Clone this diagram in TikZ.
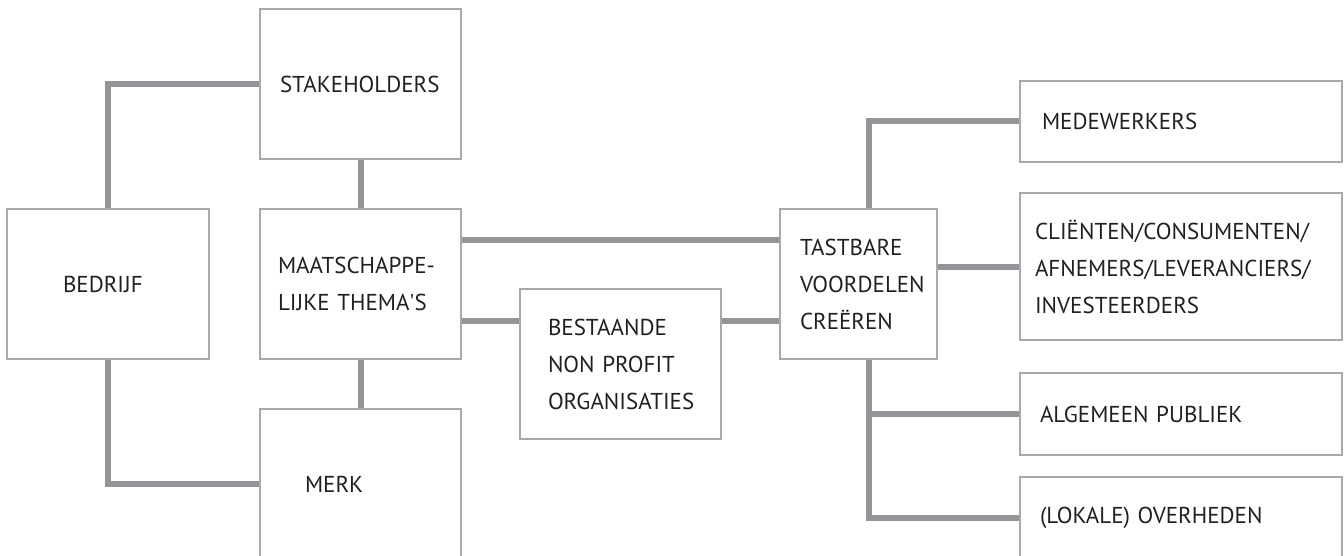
\documentclass[tikz,border=0pt]{standalone}
\usepackage{fontspec}
\setmainfont{PT Sans}
\definecolor{lijngrijs}{HTML}{939598}
\definecolor{randgrijs}{HTML}{A7A9AC}
\definecolor{tekst}{HTML}{231F20}
\begin{document}
\begin{tikzpicture}[x=1pt, y=-1pt,
    blok/.style={draw=randgrijs, line width=1.5pt, text=tekst, align=left, inner sep=0pt,
      font=\fontsize{23}{37}\selectfont},
    lijn/.style={draw=lijngrijs, line width=6pt}]
  \useasboundingbox (0,0) rectangle (1344,556);

  \node (stake) at (360.5, 84) [blok, minimum width=201pt, minimum height=150pt, text width=161pt] {STAKEHOLDERS};
  \node (bedrijf) at (108, 284) [blok, minimum width=202pt, minimum height=150pt, text width=90pt] {BEDRIJF};
  \node (thema) at (360.5, 284) [blok, minimum width=201pt, minimum height=150pt, text width=165pt] {MAATSCHAPPE-\\LIJKE THEMA\textquotesingle S};
  \node (merk) at (360.5, 484) [blok, minimum width=201pt, minimum height=150pt, text width=111pt] {MERK};
  \node (npo) at (620.5, 364) [blok, minimum width=201pt, minimum height=150pt, text width=145pt] {BESTAANDE\\NON PROFIT\\ORGANISATIES};
  \node (tast) at (858.5, 284) [blok, minimum width=157pt, minimum height=150pt, text width=117pt] {TASTBARE\\VOORDELEN\\CREËREN};

  \node (mede) at (1181, 121.5) [blok, minimum width=322pt, minimum height=81pt, text width=278pt] {MEDEWERKERS};
  \node (klant) at (1181, 266.5) [blok, minimum width=322pt, minimum height=147pt, text width=292pt] {CLIËNTEN/CONSUMENTEN/\\AFNEMERS/LEVERANCIERS/\\INVESTEERDERS};
  \node (publiek) at (1181, 414) [blok, minimum width=322pt, minimum height=82pt, text width=282pt] {ALGEMEEN PUBLIEK};
  \node (overheid) at (1181, 518) [blok, minimum width=322pt, minimum height=82pt, text width=282pt] {(LOKALE) OVERHEDEN};

  % linker kant
  \draw[lijn] (bedrijf.north) |- (stake.west);
  \draw[lijn] (stake) -- (thema);
  \draw[lijn] (thema) -- (merk);
  \draw[lijn] (bedrijf.south) |- (merk.west);

  % midden
  \draw[lijn] ([yshift=44pt]thema.east) -- ([yshift=44pt]tast.west);
  \coordinate (t2) at ([yshift=-37pt]thema.east);
  \draw[lijn] (t2) -- (t2 -| npo.west);
  \draw[lijn] (t2 -| npo.east) -- (t2 -| tast.west);

  % rechter kant
  \draw[lijn] ([xshift=10pt]tast.north) |- (mede.west);
  \draw[lijn] (tast.east |- klant.west) -- (klant.west);
  \draw[lijn] ([xshift=10pt]tast.south) |- (publiek.west);
  \draw[lijn] ([xshift=10pt]tast.south) |- (overheid.west);
\end{tikzpicture}
\end{document}
